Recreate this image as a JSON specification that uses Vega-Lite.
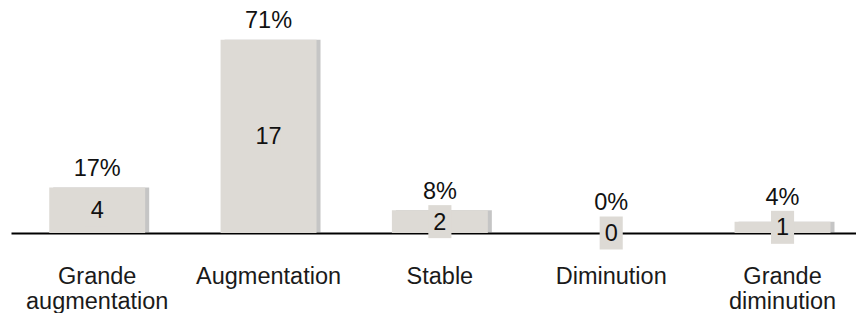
{
  "$schema": "https://vega.github.io/schema/vega-lite/v6.json",
  "width": 845,
  "height": 233,
  "autosize": {"type": "none"},
  "padding": {"left": 11, "top": 0, "right": 0, "bottom": 80},
  "config": {"view": {"stroke": null}, "font": "Liberation Sans", "text": {"font": "Liberation Sans"}},
  "data": {
    "values": [
      {"category": "Grande augmentation", "count": 4, "pct": 0.17},
      {"category": "Augmentation", "count": 17, "pct": 0.71},
      {"category": "Stable", "count": 2, "pct": 0.08},
      {"category": "Diminution", "count": 0, "pct": 0.0},
      {"category": "Grande diminution", "count": 1, "pct": 0.04}
    ]
  },
  "transform": [
    {"calculate": "max(datum.count + 0.3, datum.count / 2 + 1.3)", "as": "pctpos"},
    {"calculate": "datum.count / 2", "as": "mid"}
  ],
  "encoding": {
    "x": {
      "field": "category",
      "type": "nominal",
      "sort": null,
      "scale": {"paddingInner": 0.44, "paddingOuter": 0.186, "align": 0.6},
      "axis": {
        "title": null,
        "labelAngle": 0,
        "ticks": false,
        "domainColor": "#000000",
        "domainWidth": 2,
        "labelPadding": 31,
        "labelFontSize": 23.5,
        "labelColor": "#1a1a1a",
        "labelLineHeight": 25.5,
        "labelBaseline": "top",
        "labelExpr": "indexof(datum.label, 'Grande') == 0 ? split(datum.label, ' ') : datum.label",
        "zindex": 0
      }
    }
  },
  "layer": [
    {
      "mark": {"type": "bar", "color": "#6e6e6e", "opacity": 0.4, "xOffset": 4, "y2Offset": -1},
      "encoding": {
        "y": {"field": "count", "type": "quantitative", "scale": {"domain": [0, 20.5], "nice": false}, "axis": null}
      }
    },
    {
      "mark": {"type": "bar", "color": "#dddad5", "y2Offset": -1},
      "encoding": {
        "y": {"field": "count", "type": "quantitative"}
      }
    },
    {
      "mark": {"type": "point", "shape": "M-0.7,-1H0.7V1H-0.7Z", "size": 1089, "filled": true, "color": "#dddad5", "opacity": 1, "strokeWidth": 0},
      "encoding": {
        "y": {"field": "mid", "type": "quantitative"}
      }
    },
    {
      "mark": {"type": "text", "fontSize": 23.5, "baseline": "middle", "color": "#111111", "dy": 1},
      "encoding": {
        "y": {"field": "mid", "type": "quantitative"},
        "text": {"field": "count", "type": "quantitative"}
      }
    },
    {
      "mark": {"type": "text", "fontSize": 23.5, "baseline": "middle", "color": "#111111", "dy": -15},
      "encoding": {
        "y": {"field": "pctpos", "type": "quantitative"},
        "text": {"field": "pct", "type": "quantitative", "format": ".0%"}
      }
    }
  ]
}
